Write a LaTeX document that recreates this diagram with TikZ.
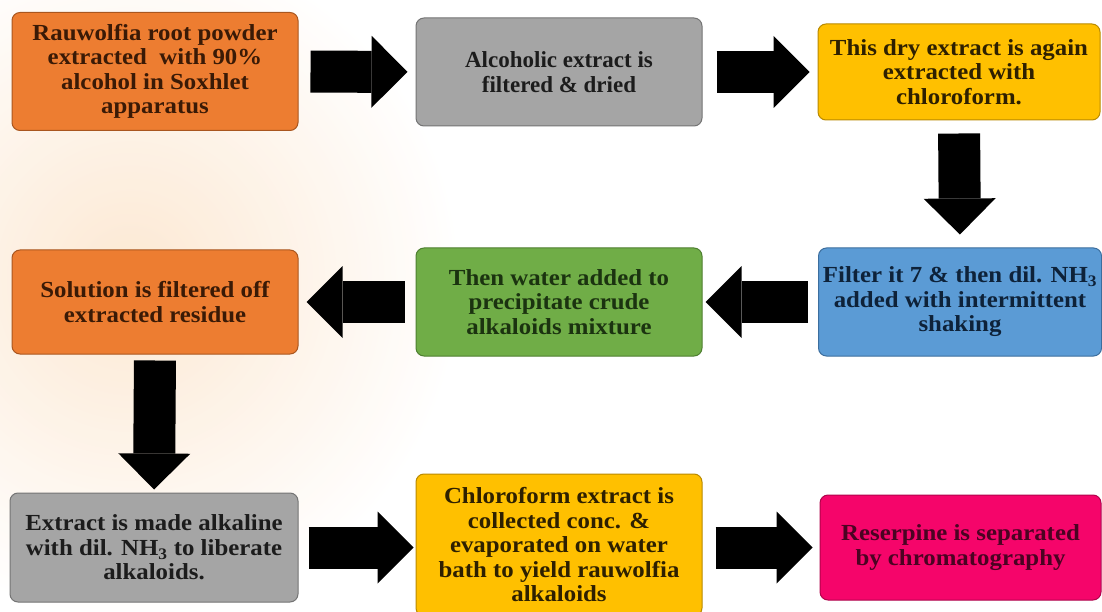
\documentclass[tikz,border=0pt]{standalone}
\usepackage{fontspec}
\setmainfont[FakeStretch=1.08]{Liberation Serif}
\newfontfamily\rwnarrow[FakeStretch=1.0]{Liberation Serif}
\usetikzlibrary{arrows.meta,positioning}
\definecolor{rwOrange}{HTML}{ED7D31}
\definecolor{rwOrangeEdge}{HTML}{A9561F}
\definecolor{rwOrangeInk}{HTML}{3A1A06}
\definecolor{rwGrey}{HTML}{A5A5A5}
\definecolor{rwGreyEdge}{HTML}{747474}
\definecolor{rwGreyInk}{HTML}{1C1C1C}
\definecolor{rwYellow}{HTML}{FFC000}
\definecolor{rwYellowEdge}{HTML}{B98A00}
\definecolor{rwYellowInk}{HTML}{2E2000}
\definecolor{rwGreen}{HTML}{70AD47}
\definecolor{rwGreenEdge}{HTML}{4E7F30}
\definecolor{rwGreenInk}{HTML}{1B3310}
\definecolor{rwBlue}{HTML}{5B9BD5}
\definecolor{rwBlueEdge}{HTML}{3C6E9E}
\definecolor{rwBlueInk}{HTML}{0E2239}
\definecolor{rwPink}{HTML}{F5056A}
\definecolor{rwPinkEdge}{HTML}{B0034B}
\definecolor{rwPinkInk}{HTML}{4A0322}
\definecolor{rwGlow}{HTML}{FCE3C8}
\tikzset{
  rw box/.style={
    rounded corners=8pt,
    line width=1pt,
    align=center,
    inner sep=0pt,
    minimum width=286pt,
    font=\bfseries\fontsize{23}{24.5}\selectfont
  },
  rw orange/.style={rw box, fill=rwOrange, draw=rwOrangeEdge, text=rwOrangeInk},
  rw grey/.style={rw box, fill=rwGrey, draw=rwGreyEdge, text=rwGreyInk},
  rw yellow/.style={rw box, fill=rwYellow, draw=rwYellowEdge, text=rwYellowInk},
  rw green/.style={rw box, fill=rwGreen, draw=rwGreenEdge, text=rwGreenInk},
  rw blue/.style={rw box, fill=rwBlue, draw=rwBlueEdge, text=rwBlueInk},
  rw pink/.style={rw box, fill=rwPink, draw=rwPinkEdge, text=rwPinkInk},
  rw flow/.style={
    draw=black,
    line width=42pt,
    shorten <=10pt,
    shorten >=8pt,
    -{Triangle[length=36pt,width=72pt,line width=0pt]}
  }
}

\begin{document}
\begin{tikzpicture}[x=1pt,y=-1pt]
  \useasboundingbox (0,0) rectangle (1102,612);
  \fill[white] (0,0) rectangle (1102,612);
  \shade[inner color=rwGlow, outer color=white, opacity=.8] (130,280) ellipse (330 and 340);

  % first row
  \node[rw orange, minimum height=118pt] (powder) at (155,71.5)
    {Rauwolfia root powder\\extracted\ \ with 90\%\\alcohol in Soxhlet\\apparatus};
  \node[rw grey, minimum height=108pt, font=\rwnarrow\bfseries\fontsize{23}{24.5}\selectfont] (dried) at (559,72)
    {Alcoholic extract is\\filtered \& dried};
  \node[rw yellow, minimum width=282pt, minimum height=96pt] (chloro) at (959,72)
    {This dry extract is again\\extracted with\\chloroform.};

  % second row
  \node[rw blue, minimum width=283pt, minimum height=108pt] (ammonia) at (960,302)
    {Filter it 7 \& then dil. NH\textsubscript{3}\\added with intermittent\\shaking};
  \node[rw green, minimum height=108pt] (water) at (559,302)
    {Then water added to\\precipitate crude\\alkaloids mixture};
  \node[rw orange, minimum height=104pt] (residue) at (155,302)
    {Solution is filtered off\\extracted residue};

  % third row
  \node[rw grey, minimum width=288pt, minimum height=109pt] (alkaline) at (154,547.5)
    {Extract is made alkaline\\with dil. NH\textsubscript{3} to liberate\\alkaloids.};
  \node[rw yellow, minimum height=142pt] (bath) at (559,545)
    {Chloroform extract is\\collected conc. \&\\evaporated on water\\bath to yield rauwolfia\\alkaloids};
  \node[rw pink, minimum width=281pt, minimum height=105pt] (reserpine) at (960.5,547.5)
    {Reserpine is separated\\by chromatography};

  \draw[rw flow, shorten <=12pt] (powder.east) -- (dried.west);
  \draw[rw flow, shorten <=14pt] (dried.east) -- (chloro.west);
  \draw[rw flow, shorten <=13pt, shorten >=13pt] (chloro.south) -- (ammonia.north);
  \draw[rw flow, shorten >=3pt] (ammonia.west) -- (water.east);
  \draw[rw flow, shorten <=11pt] (water.west) -- (residue.east);
  \draw[rw flow, shorten <=6pt, shorten >=3pt] (residue.south) -- (alkaline.north);
  \draw[rw flow, shorten >=2pt] (alkaline.east) -- (alkaline.east -| bath.west);
  \draw[rw flow, shorten <=13pt, shorten >=7pt] (reserpine.west -| bath.east) -- (reserpine.west);
\end{tikzpicture}
\end{document}
